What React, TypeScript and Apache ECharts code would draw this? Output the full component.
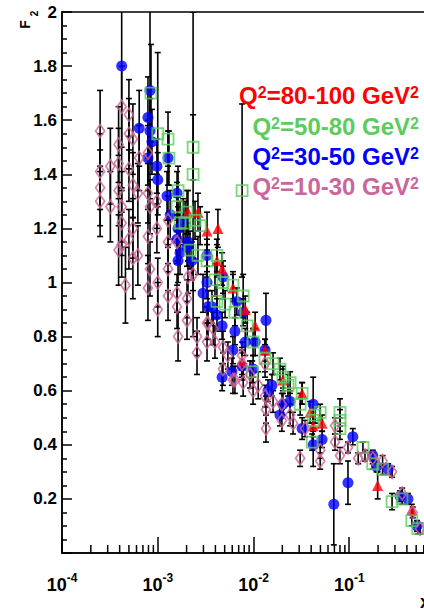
import React, { useEffect, useRef } from 'react';
import * as echarts from 'echarts';

const FONT = '"Liberation Sans", Arial, Helvetica, sans-serif';

// Q^2 = 80-100 GeV^2 (red triangles)
const redX = [2.07e-3, 2.63e-3, 3.27e-3, 4.25e-3, 4.15e-3, 4.7e-3, 6.1e-3, 8.2e-3, 1.04e-2, 7.6e-3, 1.32e-2, 2.03e-2, 3.22e-2, 3.9e-2, 4.2e-2, 5.2e-2, 0.198, 0.45];
const redY = [1.26, 1.26, 1.19, 1.2, 1.08, 1.05, 0.98, 0.9, 0.84, 0.71, 0.75, 0.64, 0.59, 0.52, 0.47, 0.48, 0.25, 0.16];
const redErr = [0.08, 0.07, 0.07, 0.07, 0.06, 0.06, 0.05, 0.05, 0.05, 0.05, 0.04, 0.04, 0.04, 0.04, 0.04, 0.03, 0.05, 0.02];

// Q^2 = 50-80 GeV^2 (green open squares)
const greenX = [8.5e-4, 1.0e-3, 1.28e-3, 1.31e-3, 2.34e-3, 2.34e-3, 1.63e-3, 1.59e-3, 1.71e-3, 2.02e-3, 7.6e-3, 1.93e-3, 2.45e-3, 2.77e-3, 2.17e-3, 2.63e-3, 3.27e-3, 4.15e-3, 3.96e-3, 4.8e-3, 6.1e-3, 4.15e-3, 5.05e-3, 7.8e-3, 6.4e-3, 8.6e-3, 9.9e-3, 1.32e-2, 1.6e-2, 2.03e-2, 2.29e-2, 1.89e-2, 2.41e-2, 3.22e-2, 4.4e-2, 4.97e-2, 8.0e-2, 8.0e-2, 8.0e-2, 0.139, 0.176, 0.223, 0.28, 0.357, 0.45, 0.52, 9.7e-3, 4.2e-2, 3.07e-2, 4.1e-2];
const greenY = [1.7, 1.55, 1.53, 1.46, 1.5, 1.4, 1.34, 1.28, 1.22, 1.26, 1.34, 1.22, 1.23, 1.21, 1.12, 1.1, 1.08, 1.1, 1.01, 1.0, 0.99, 0.93, 0.92, 0.95, 0.89, 0.84, 0.78, 0.72, 0.7, 0.65, 0.62, 0.68, 0.63, 0.59, 0.51, 0.52, 0.52, 0.46, 0.49, 0.39, 0.33, 0.31, 0.19, 0.2, 0.12, 0.09, 0.67, 0.49, 0.55, 0.41];
const greenErr = [0.18, 0.3, 0.1, 0.1, 0.12, 0.6, 0.09, 0.09, 0.08, 0.08, 0.32, 0.08, 0.07, 0.07, 0.07, 0.07, 0.06, 0.06, 0.06, 0.06, 0.05, 0.06, 0.05, 0.08, 0.05, 0.05, 0.05, 0.05, 0.04, 0.04, 0.04, 0.04, 0.04, 0.04, 0.03, 0.03, 0.05, 0.04, 0.04, 0.02, 0.02, 0.02, 0.03, 0.02, 0.02, 0.02, 0.04, 0.03, 0.04, 0.03];

// Q^2 = 30-50 GeV^2 (blue full circles)
const blueX = [4.2e-4, 8.3e-4, 7.9e-4, 6.4e-4, 8.3e-4, 8.7e-4, 7.9e-4, 9.8e-4, 1.0e-3, 1.28e-3, 1.25e-3, 1.35e-3, 1.59e-3, 1.63e-3, 1.71e-3, 1.59e-3, 1.63e-3, 2.02e-3, 2.27e-3, 3.27e-3, 3.27e-3, 2.97e-3, 3.68e-3, 4.15e-3, 4.7e-3, 6.1e-3, 7.6e-3, 9.9e-3, 5.95e-3, 1.84e-3, 2.07e-3, 3.35e-3, 4.8e-3, 6.7e-3, 6.4e-3, 7.8e-3, 8.2e-3, 1.04e-2, 1.35e-2, 1.32e-2, 1.42e-2, 2.03e-2, 1.89e-2, 1.56e-2, 2.41e-2, 3.22e-2, 4.2e-2, 4.2e-2, 5.2e-2, 0.109, 9.7e-2, 6.9e-2, 0.176, 0.193, 0.255, 0.34, 0.41, 0.51, 4.7e-3];
const blueY = [1.8, 1.71, 1.61, 1.57, 1.56, 1.52, 1.46, 1.43, 1.38, 1.46, 1.32, 1.25, 1.33, 1.2, 1.11, 1.16, 1.08, 1.13, 1.08, 1.1, 1.0, 0.96, 0.91, 0.88, 0.84, 0.75, 0.69, 0.68, 0.67, 1.23, 1.15, 0.91, 1.02, 0.93, 0.82, 0.89, 0.78, 0.78, 0.86, 0.75, 0.6, 0.55, 0.51, 0.62, 0.56, 0.46, 0.55, 0.4, 0.42, 0.43, 0.26, 0.18, 0.36, 0.32, 0.31, 0.21, 0.2, 0.1, 0.65];
const blueErr = [0.45, 0.4, 0.15, 0.14, 0.12, 0.12, 0.12, 0.1, 0.1, 0.1, 0.09, 0.09, 0.08, 0.08, 0.08, 0.08, 0.08, 0.07, 0.07, 0.06, 0.06, 0.07, 0.06, 0.06, 0.05, 0.05, 0.05, 0.05, 0.05, 0.08, 0.07, 0.06, 0.06, 0.05, 0.05, 0.05, 0.05, 0.05, 0.1, 0.04, 0.04, 0.04, 0.04, 0.04, 0.04, 0.04, 0.1, 0.08, 0.03, 0.03, 0.08, 0.15, 0.02, 0.02, 0.02, 0.02, 0.02, 0.02, 0.05];

// Q^2 = 10-30 GeV^2 (pink open diamonds)
const pinkX = [2.5e-4, 2.5e-4, 2.5e-4, 2.5e-4, 3.2e-4, 3.2e-4, 4.2e-4, 3.9e-4, 3.9e-4, 3.9e-4, 4.2e-4, 4.2e-4, 4.2e-4, 5.0e-4, 5.0e-4, 5.0e-4, 5.5e-4, 5.5e-4, 5.5e-4, 5.0e-4, 6.4e-4, 6.2e-4, 7.9e-4, 7.9e-4, 8.3e-4, 7.9e-4, 9.8e-4, 9.8e-4, 1.28e-3, 1.28e-3, 1.59e-3, 3.9e-4, 4.6e-4, 5.5e-4, 6.2e-4, 7.9e-4, 8.3e-4, 1.0e-3, 1.0e-3, 1.28e-3, 1.28e-3, 1.59e-3, 1.59e-3, 1.63e-3, 2.02e-3, 2.02e-3, 2.07e-3, 2.34e-3, 2.57e-3, 3.27e-3, 3.27e-3, 4.8e-3, 4.8e-3, 6.1e-3, 7.6e-3, 9.9e-3, 2.57e-3, 3.35e-3, 3.96e-3, 6.4e-3, 7.6e-3, 7.8e-3, 1.32e-2, 1.32e-2, 1.35e-2, 1.35e-2, 1.6e-2, 1.98e-2, 1.98e-2, 2.41e-2, 2.59e-2, 3.46e-2, 3.07e-2, 4.97e-2, 4.97e-2, 7.1e-2, 7.1e-2, 8.0e-2, 9.7e-2, 0.124, 0.146, 0.176, 0.223, 0.28, 0.357, 0.46, 0.55, 3.8e-3, 5.4e-3, 9.2e-3, 1.12e-2];
const pinkY = [1.56, 1.41, 1.35, 1.3, 1.43, 1.28, 1.65, 1.51, 1.44, 1.34, 1.28, 1.22, 1.14, 1.62, 1.55, 1.42, 1.53, 1.36, 1.2, 1.16, 1.46, 1.33, 1.48, 1.33, 1.28, 1.17, 1.3, 1.2, 1.23, 1.15, 1.15, 1.12, 0.99, 1.09, 1.1, 0.98, 1.05, 1.0, 0.9, 1.05, 0.95, 0.96, 0.91, 0.8, 0.94, 0.86, 1.02, 1.03, 0.74, 0.85, 0.78, 0.76, 0.68, 0.64, 0.73, 0.6, 0.8, 0.85, 0.78, 0.64, 0.7, 0.63, 0.7, 0.58, 0.53, 0.46, 0.56, 0.49, 0.55, 0.51, 0.48, 0.46, 0.35, 0.38, 0.34, 0.47, 0.41, 0.36, 0.39, 0.35, 0.36, 0.35, 0.34, 0.3, 0.22, 0.15, 0.09, 0.83, 0.73, 0.66, 0.62];
const pinkErr = [0.15, 0.14, 0.14, 0.13, 0.14, 0.13, 0.15, 0.14, 0.13, 0.13, 0.13, 0.12, 0.12, 0.13, 0.13, 0.12, 0.13, 0.12, 0.11, 0.11, 0.12, 0.11, 0.12, 0.11, 0.1, 0.1, 0.1, 0.09, 0.09, 0.08, 0.08, 0.13, 0.14, 0.15, 0.11, 0.12, 0.1, 0.09, 0.1, 0.08, 0.09, 0.07, 0.08, 0.09, 0.07, 0.07, 0.06, 0.06, 0.08, 0.06, 0.07, 0.06, 0.06, 0.05, 0.05, 0.05, 0.07, 0.06, 0.06, 0.05, 0.05, 0.05, 0.05, 0.04, 0.05, 0.05, 0.04, 0.04, 0.04, 0.04, 0.04, 0.03, 0.03, 0.03, 0.03, 0.03, 0.03, 0.03, 0.02, 0.02, 0.02, 0.02, 0.02, 0.02, 0.02, 0.02, 0.02, 0.06, 0.05, 0.05, 0.05];

// axis decades and legend
const xDecades = [1e-4, 1e-3, 1e-2, 1e-1, 1];
const yTickStep = 0.2;
const legendRanges = ['80-100', '50-80', '30-50', '10-30'];
const legendColors = ['#ff0000', '#5ccc5c', '#0000ff', '#cc6699'];

const RED = legendColors[0];
const GREEN = legendColors[1];
const BLUE = legendColors[2];
const PINK = legendColors[3];

const minorTickValues: number[] = [];
xDecades.slice(0, -1).forEach((d) => {
  for (let k = 2; k <= 9; k++) minorTickValues.push(k * d);
});

const zip = (xs: number[], ys: number[], es?: number[]) =>
  xs.map((x, i) => (es ? [x, ys[i], es[i]] : [x, ys[i]]));

const errRender = (params: any, api: any) => {
  const x = api.value(0);
  const y = api.value(1);
  const e = api.value(2);
  const c = api.coord([x, y]);
  const hi = api.coord([x, y + e]);
  const lo = api.coord([x, Math.max(y - e, 0)]);
  const w = 3;
  const st = { stroke: '#000', lineWidth: 1.6 };
  return {
    type: 'group',
    children: [
      { type: 'line', shape: { x1: c[0], y1: hi[1], x2: c[0], y2: lo[1] }, style: st },
      { type: 'line', shape: { x1: c[0] - w, y1: hi[1], x2: c[0] + w, y2: hi[1] }, style: st },
      { type: 'line', shape: { x1: c[0] - w, y1: lo[1], x2: c[0] + w, y2: lo[1] }, style: st },
    ],
  };
};

const errSeries = (xs: number[], ys: number[], es: number[]) => ({
  type: 'custom',
  data: zip(xs, ys, es),
  encode: { x: 0, y: 1 },
  renderItem: errRender,
  clip: true,
  silent: true,
});

export default function App() {
  const ref = useRef<HTMLDivElement>(null);
  useEffect(() => {
    if (!ref.current) return;
    const chart = echarts.init(ref.current, null, { renderer: 'svg' });
    const axisLineStyle = { color: '#000', width: 1.5 };
    const option: any = {
      animation: false,
      backgroundColor: '#fff',
      grid: {
        left: 62,
        top: 12,
        width: 383,
        height: 541,
        show: true,
        borderColor: '#000',
        borderWidth: 1.5,
        containLabel: false,
        outerBoundsMode: 'none',
      },
      xAxis: {
        type: 'log',
        logBase: 10,
        min: xDecades[0],
        max: xDecades[xDecades.length - 1],
        axisLine: { show: true, lineStyle: axisLineStyle },
        axisTick: { show: true, inside: true, length: 16, lineStyle: axisLineStyle },
        minorTick: { show: false },
        splitLine: { show: false },
        axisLabel: {
          margin: 19,
          formatter: (v: number) => (v >= 0.5 ? '' : `{b|10}{s|${Math.round(Math.log10(v))}}`),
          rich: {
            b: { fontSize: 18, fontWeight: 'bold', fontFamily: FONT, color: '#000', lineHeight: 22, verticalAlign: 'bottom' },
            s: { fontSize: 12, fontWeight: 'bold', fontFamily: FONT, color: '#000', lineHeight: 22, verticalAlign: 'top' },
          },
        },
      },
      yAxis: {
        type: 'value',
        min: 0,
        max: 2,
        interval: yTickStep,
        axisLine: { show: true, lineStyle: axisLineStyle },
        axisTick: { show: true, inside: true, length: 10, lineStyle: axisLineStyle },
        minorTick: { show: true, splitNumber: 4, length: 5, lineStyle: axisLineStyle },
        splitLine: { show: false },
        axisLabel: {
          margin: 5,
          color: '#000',
          fontSize: 17,
          fontWeight: 'bold',
          fontFamily: FONT,
          formatter: (v: number) => (Math.abs(v) < 1e-9 ? '' : String(Math.round(v * 10) / 10)),
        },
      },
      series: [
        {
          type: 'custom',
          data: minorTickValues.map((v) => [v, 0]),
          encode: { x: 0, y: 1 },
          silent: true,
          clip: false,
          renderItem: (params: any, api: any) => {
            const p = api.coord([api.value(0), 0]);
            return {
              type: 'line',
              shape: { x1: p[0], y1: p[1], x2: p[0], y2: p[1] - 8 },
              style: { stroke: '#000', lineWidth: 1.5 },
            };
          },
        },
        errSeries(blueX, blueY, blueErr),
        errSeries(redX, redY, redErr),
        errSeries(greenX, greenY, greenErr),
        errSeries(pinkX, pinkY, pinkErr),
        {
          type: 'scatter',
          data: zip(blueX, blueY),
          symbol: 'circle',
          symbolSize: 11,
          itemStyle: { color: BLUE },
          clip: true,
        },
        {
          type: 'scatter',
          data: zip(redX, redY),
          symbol: 'triangle',
          symbolSize: 11,
          itemStyle: { color: RED },
          clip: true,
        },
        {
          type: 'scatter',
          data: zip(greenX, greenY),
          symbol: 'rect',
          symbolSize: 11,
          itemStyle: { color: 'rgba(0,0,0,0)', borderColor: GREEN, borderWidth: 1.8 },
          clip: true,
        },
        {
          type: 'scatter',
          data: zip(pinkX, pinkY),
          symbol: 'diamond',
          symbolSize: [9, 13],
          itemStyle: { color: 'rgba(0,0,0,0)', borderColor: PINK, borderWidth: 1.8 },
          clip: true,
        },
      ],
      graphic: [
        ...legendRanges.map((r, i) => ({
          type: 'text',
          x: 419,
          y: [84, 115, 145, 175][i],
          z: 100,
          style: {
            text: `{q|Q}{s|2}{q|=${r} GeV}{s|2}`,
            align: 'right',
            verticalAlign: 'top',
            rich: {
              q: { fontSize: 24, fontWeight: 'bold', fontFamily: FONT, fill: legendColors[i], lineHeight: 23, verticalAlign: 'bottom' },
              s: { fontSize: 16, fontWeight: 'bold', fontFamily: FONT, fill: legendColors[i], lineHeight: 23, verticalAlign: 'top' },
            },
          },
        })),
        {
          type: 'text',
          x: 25,
          y: 24.5,
          rotation: Math.PI / 2,
          style: { text: 'F', fontSize: 14, fontWeight: 'bold', fontFamily: FONT, fill: '#000', align: 'center', verticalAlign: 'middle' },
        },
        {
          type: 'text',
          x: 34,
          y: 13.5,
          rotation: Math.PI / 2,
          style: { text: '2', fontSize: 10, fontWeight: 'bold', fontFamily: FONT, fill: '#000', align: 'center', verticalAlign: 'middle' },
        },
        {
          type: 'text',
          x: 420,
          y: 611,
          style: { text: 'x', fontSize: 18, fontWeight: 'bold', fontFamily: FONT, fill: '#000', align: 'left', verticalAlign: 'bottom' },
        },
      ],
    };
    chart.setOption(option);
    return () => chart.dispose();
  }, []);
  return (
    <div style={{ position: 'fixed', left: 0, top: 0, width: 424, height: 612, overflow: 'hidden', background: '#fff' }}>
      <div ref={ref} style={{ width: 480, height: 612 }} />
    </div>
  );
}
